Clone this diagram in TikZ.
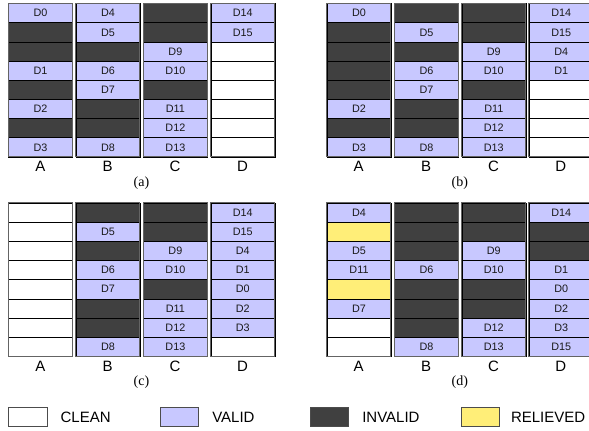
\documentclass[tikz,border=0pt]{standalone}
\usepackage{fontspec}
\setmainfont{Liberation Sans}
\newfontfamily\capfont{Liberation Serif}
\definecolor{vcol}{RGB}{200,200,255}
\definecolor{icol}{RGB}{64,64,64}
\definecolor{ccol}{RGB}{255,255,255}
\definecolor{rcol}{RGB}{255,238,120}
\definecolor{framecol}{RGB}{100,100,100}
\def\rowh{19.17}
\def\colw{64}
\tikzset{
  cell/.style={anchor=north west, minimum width=64pt, minimum height=19.17pt,
    inner sep=0pt, draw=black, line width=0.6pt, text=black!90,
    font=\fontsize{10.8}{12}\selectfont},
  colframe/.style={draw=framecol, line width=0.9pt},
  collabel/.style={font=\fontsize{15}{18}\selectfont, inner sep=0pt},
  caplabel/.style={font=\capfont\fontsize{14}{16}\selectfont, inner sep=0pt},
  legbox/.style={anchor=north west, minimum width=38.4pt, minimum height=18.7pt,
    inner sep=0pt, draw=black!70, line width=0.7pt},
  legtext/.style={anchor=west, font=\fontsize{15}{18}\selectfont, inner sep=0pt}
}
\newcommand\stcolumn[5]{%
  \foreach \f/\l [count=\r] in {#5} {
    \node[cell, fill=\f] (#1#2\r) at (#3, {#4+(\r-1)*\rowh}) {\l};
  }
  \draw[colframe] (#3,#4) rectangle ++(\colw, 8*\rowh);
  \node[collabel] (#1#2lab) at ({#3+\colw/2}, {#4+163.5}) {#2};
}
\begin{document}
\begin{tikzpicture}[x=1pt, y=-1pt]
\useasboundingbox (0,0) rectangle (589,431);
\clip (0,0) rectangle (589,431);
% ---------- panel (a)
\stcolumn{a}{A}{8.3}{3.3}{vcol/D0, icol/{}, icol/{}, vcol/D1, icol/{}, vcol/D2, icol/{}, vcol/D3}
\stcolumn{a}{B}{75.7}{3.3}{vcol/D4, vcol/D5, icol/{}, vcol/D6, vcol/D7, icol/{}, icol/{}, vcol/D8}
\stcolumn{a}{C}{143.1}{3.3}{icol/{}, icol/{}, vcol/D9, vcol/D10, icol/{}, vcol/D11, vcol/D12, vcol/D13}
\stcolumn{a}{D}{210.5}{3.3}{vcol/D14, vcol/D15, ccol/{}, ccol/{}, ccol/{}, ccol/{}, ccol/{}, ccol/{}}
\node[caplabel] (capa) at (141.4, 183) {(a)};
% ---------- panel (b)
\stcolumn{b}{A}{326.7}{3.3}{vcol/D0, icol/{}, icol/{}, icol/{}, icol/{}, vcol/D2, icol/{}, vcol/D3}
\stcolumn{b}{B}{394.1}{3.3}{icol/{}, vcol/D5, icol/{}, vcol/D6, vcol/D7, icol/{}, icol/{}, vcol/D8}
\stcolumn{b}{C}{461.5}{3.3}{icol/{}, icol/{}, vcol/D9, vcol/D10, icol/{}, vcol/D11, vcol/D12, vcol/D13}
\stcolumn{b}{D}{528.9}{3.3}{vcol/D14, vcol/D15, vcol/D4, vcol/D1, ccol/{}, ccol/{}, ccol/{}, ccol/{}}
\node[caplabel] (capb) at (459.8, 183) {(b)};
% ---------- panel (c)
\stcolumn{c}{A}{8.3}{202.7}{ccol/{}, ccol/{}, ccol/{}, ccol/{}, ccol/{}, ccol/{}, ccol/{}, ccol/{}}
\stcolumn{c}{B}{75.7}{202.7}{icol/{}, vcol/D5, icol/{}, vcol/D6, vcol/D7, icol/{}, icol/{}, vcol/D8}
\stcolumn{c}{C}{143.1}{202.7}{icol/{}, icol/{}, vcol/D9, vcol/D10, icol/{}, vcol/D11, vcol/D12, vcol/D13}
\stcolumn{c}{D}{210.5}{202.7}{vcol/D14, vcol/D15, vcol/D4, vcol/D1, vcol/D0, vcol/D2, vcol/D3, ccol/{}}
\node[caplabel] (capc) at (141.4, 382.4) {(c)};
% ---------- panel (d)
\stcolumn{d}{A}{326.7}{202.7}{vcol/D4, rcol/{}, vcol/D5, vcol/D11, rcol/{}, vcol/D7, ccol/{}, ccol/{}}
\stcolumn{d}{B}{394.1}{202.7}{icol/{}, icol/{}, icol/{}, vcol/D6, icol/{}, icol/{}, icol/{}, vcol/D8}
\stcolumn{d}{C}{461.5}{202.7}{icol/{}, icol/{}, vcol/D9, vcol/D10, icol/{}, icol/{}, vcol/D12, vcol/D13}
\stcolumn{d}{D}{528.9}{202.7}{vcol/D14, icol/{}, icol/{}, vcol/D1, vcol/D0, vcol/D2, vcol/D3, vcol/D15}
\node[caplabel] (capd) at (459.8, 382.4) {(d)};
% ---------- legend
\node[legbox, fill=ccol] (lclean) at (8.3, 407.3) {};
\node[legtext] (tclean) at ([xshift=13pt]lclean.east) {CLEAN};
\node[legbox, fill=vcol] (lvalid) at (160, 407.3) {};
\node[legtext] (tvalid) at ([xshift=13pt]lvalid.east) {VALID};
\node[legbox, fill=icol] (linvalid) at (310, 407.3) {};
\node[legtext] (tinvalid) at ([xshift=13pt]linvalid.east) {INVALID};
\node[legbox, fill=rcol] (lrelieved) at (460.7, 407.3) {};
\node[legtext] (trelieved) at ([xshift=11pt]lrelieved.east) {RELIEVED};
\end{tikzpicture}
\end{document}
